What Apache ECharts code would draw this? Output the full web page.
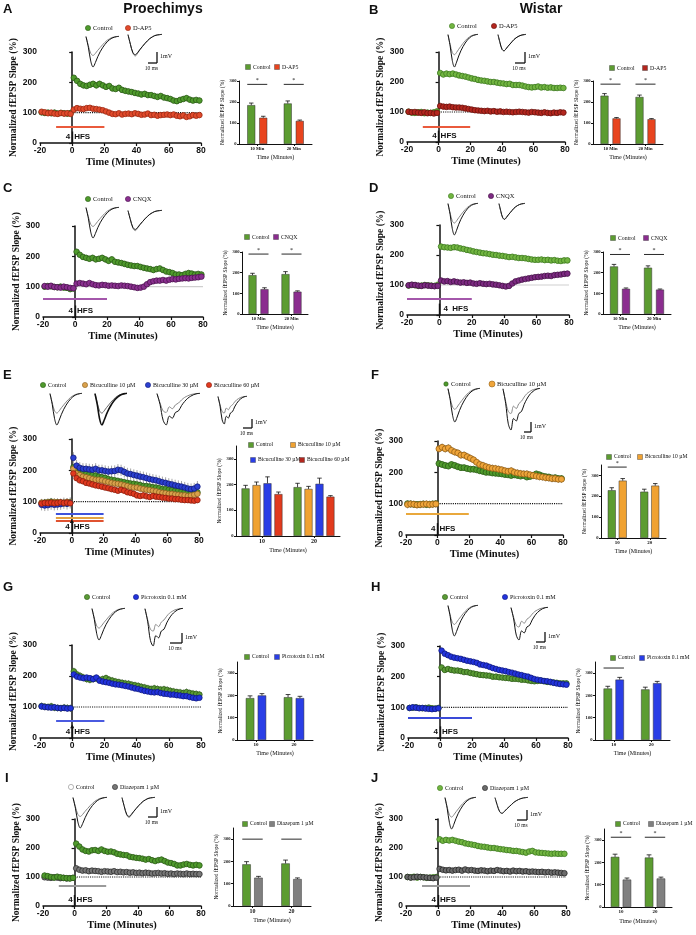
<!DOCTYPE html>
<html>
<head>
<meta charset="utf-8">
<script src="https://cdn.jsdelivr.net/npm/echarts@6/dist/echarts.min.js"></script>
<style>
  html, body { margin: 0; padding: 0; background: #fff; }
  #fig { width: 696px; height: 935px; }
</style>
</head>
<body>
<div id="fig"></div>
<script>
// ---- time axis of the field recordings (minutes) ----
let minutes = [-19, -17, -15, -13, -11, -9, -7, -5, -3, -1,
  1, 3, 5, 7, 9, 11, 13, 15, 17, 19, 21, 23, 25, 27, 29, 31, 33, 35, 37, 39,
  41, 43, 45, 47, 49, 51, 53, 55, 57, 59, 61, 63, 65, 67, 69, 71, 73, 75, 77, 79]

// A  Proechimys D-AP5
let aControl = [101, 99, 100, 98, 100, 97, 99, 98, 97, 99,
  215, 205, 195, 190, 188, 192, 195, 190, 195, 190, 185, 188, 180, 178, 182, 175, 172, 170, 168, 165,
  163, 160, 162, 158, 158, 155, 152, 155, 150, 148, 145, 140, 138, 142, 145, 148, 143, 140, 142, 140]
let aDAP5 = [103, 101, 98, 100, 97, 96, 99, 97, 98, 96,
  110, 115, 113, 112, 115, 116, 113, 112, 110, 108, 104, 100, 96, 95, 98, 94, 96, 97, 95, 98,
  96, 93, 94, 97, 92, 93, 90, 92, 93, 94, 92, 94, 90, 88, 91, 86, 88, 92, 90, 92]
// B  Wistar D-AP5
let bControl = [101, 98, 97, 99, 100, 96, 98, 97, 99, 102,
  230, 225, 228, 226, 228, 225, 222, 220, 218, 215, 212, 210, 207, 205, 204, 202, 200, 200, 198, 196,
  195, 193, 194, 190, 190, 190, 188, 185, 183, 182, 183, 185, 182, 183, 181, 182, 180, 180, 181, 180]
let bDAP5 = [101, 99, 100, 98, 97, 99, 96, 97, 95, 97,
  120, 118, 117, 118, 116, 115, 115, 114, 112, 110, 108, 106, 105, 104, 103, 104, 102, 103, 101, 102,
  100, 101, 100, 99, 100, 101, 100, 99, 98, 100, 99, 98, 97, 99, 97, 96, 98, 97, 99, 98]
// C  Proechimys CNQX
let cControl = [100, 102, 101, 99, 98, 100, 97, 96, 92, 94,
  215, 205, 198, 195, 192, 195, 190, 192, 195, 190, 185, 190, 182, 180, 178, 175, 172, 170, 168, 168,
  165, 162, 160, 158, 155, 158, 160, 155, 150, 148, 145, 140, 140, 138, 142, 145, 143, 140, 142, 140]
let cCNQX = [102, 100, 103, 99, 98, 97, 100, 98, 96, 95,
  110, 112, 110, 108, 112, 108, 105, 104, 106, 105, 103, 104, 103, 102, 104, 103, 102, 100, 98, 96,
  97, 100, 108, 115, 118, 120, 120, 122, 120, 123, 125, 124, 126, 127, 128, 127, 129, 130, 131, 133]
// D  Wistar CNQX
let dControl = [98, 100, 99, 97, 98, 100, 99, 98, 97, 101,
  228, 226, 225, 224, 226, 225, 222, 220, 217, 215, 212, 210, 208, 206, 205, 203, 201, 200, 198, 197,
  195, 193, 194, 192, 190, 190, 189, 187, 185, 184, 184, 185, 183, 184, 182, 183, 181, 180, 182, 182]
let dCNQX = [99, 101, 100, 98, 97, 99, 98, 97, 96, 97,
  115, 112, 113, 110, 112, 110, 108, 109, 107, 108, 105, 104, 106, 104, 103, 104, 102, 101, 99, 97,
  95, 97, 105, 112, 115, 118, 120, 122, 124, 126, 127, 128, 130, 131, 130, 133, 134, 135, 137, 138]
// E  Proechimys bicuculline
let eControl = [95, 97, 98, 100, 96, 98, 97, 95, 97, 98,
  210, 200, 195, 192, 188, 187, 185, 183, 180, 178, 176, 172, 170, 168, 166, 164, 162, 160, 158, 157,
  155, 153, 150, 150, 148, 146, 145, 143, 140, 140, 138, 137, 135, 135, 133, 132, 130, 130, 128, 130]
let eBic10 = [97, 96, 98, 97, 99, 98, 96, 97, 99, 98,
  205, 190, 185, 180, 178, 175, 172, 170, 170, 168, 165, 163, 160, 158, 157, 155, 152, 150, 147, 145,
  145, 142, 140, 138, 137, 135, 133, 130, 128, 127, 125, 125, 123, 122, 120, 120, 118, 120, 122, 125]
let eBic30 = [90, 88, 89, 92, 90, 91, 92, 95, 93, 96,
  240, 215, 208, 205, 205, 203, 202, 205, 200, 200, 198, 196, 197, 198, 202, 200, 195, 190, 188, 185,
  183, 180, 178, 175, 172, 170, 168, 165, 162, 160, 157, 155, 152, 150, 148, 145, 142, 140, 142, 148]
let eBic60 = [94, 96, 95, 97, 95, 96, 98, 96, 97, 95,
  190, 175, 168, 165, 160, 158, 155, 152, 150, 148, 145, 143, 140, 138, 135, 138, 135, 130, 128, 125,
  120, 118, 120, 117, 115, 118, 116, 115, 113, 112, 110, 110, 108, 108, 106, 105, 105, 104, 103, 105]
// F  Wistar bicuculline
let fControl = [100, 99, 98, 97, 98, 99, 97, 98, 99, 100,
  228, 225, 222, 220, 225, 222, 218, 215, 215, 212, 210, 210, 208, 205, 203, 200, 200, 198, 197, 196,
  195, 193, 192, 190, 192, 190, 188, 190, 185, 187, 190, 195, 192, 188, 186, 185, 182, 183, 180, 180]
let fBic10 = [97, 99, 98, 96, 97, 98, 99, 97, 98, 99,
  275, 280, 275, 278, 270, 265, 262, 255, 255, 250, 245, 240, 232, 225, 222, 218, 215, 213, 212, 210,
  208, 205, 203, 205, 200, 198, 196, 195, 195, 192, 190, 188, 186, 185, 183, 182, 180, 180, 178, 178]
// G  Proechimys picrotoxin
let gControl = [103, 101, 100, 102, 98, 97, 96, 98, 97, 96,
  215, 205, 200, 195, 190, 188, 190, 192, 188, 190, 193, 188, 185, 182, 180, 178, 176, 175, 172, 170,
  168, 165, 163, 160, 158, 160, 158, 156, 157, 155, 152, 150, 148, 147, 145, 148, 145, 143, 142, 140]
let gPicro = [102, 100, 99, 98, 99, 97, 96, 97, 95, 96,
  205, 198, 195, 193, 195, 193, 190, 195, 185, 182, 180, 178, 175, 173, 172, 170, 168, 166, 163, 160,
  158, 155, 152, 150, 148, 147, 148, 145, 143, 142, 140, 140, 138, 137, 135, 135, 132, 130, 128, 130]
// H  Wistar picrotoxin
let hControl = [98, 99, 100, 98, 97, 98, 99, 97, 96, 98,
  230, 222, 225, 222, 220, 220, 218, 215, 215, 212, 210, 208, 206, 205, 204, 203, 200, 200, 198, 197,
  196, 195, 193, 193, 192, 190, 190, 188, 186, 185, 186, 187, 185, 183, 182, 181, 180, 178, 178, 178]
let hPicro = [98, 100, 99, 97, 98, 96, 95, 94, 95, 97,
  285, 275, 270, 265, 262, 260, 258, 255, 252, 250, 248, 245, 240, 238, 236, 232, 228, 225, 222, 220,
  218, 215, 213, 210, 207, 205, 202, 200, 196, 192, 190, 188, 186, 185, 183, 180, 178, 176, 175, 174]
// I  Proechimys diazepam
let iControl = [105, 103, 100, 98, 101, 99, 97, 96, 95, 97,
  215, 205, 195, 190, 188, 192, 193, 190, 195, 190, 187, 188, 185, 180, 178, 176, 175, 170, 168, 166,
  165, 163, 160, 162, 158, 155, 158, 160, 155, 150, 148, 145, 140, 140, 143, 145, 142, 140, 142, 140]
let iDiaz = [99, 98, 97, 99, 98, 96, 97, 95, 96, 97,
  130, 125, 122, 123, 120, 122, 121, 120, 118, 120, 119, 118, 120, 117, 118, 116, 117, 115, 116, 114,
  115, 113, 115, 114, 112, 113, 114, 112, 113, 111, 112, 110, 112, 111, 110, 112, 110, 111, 110, 110]
// J  Wistar diazepam
let jControl = [100, 99, 101, 98, 100, 99, 97, 98, 99, 100,
  230, 225, 228, 226, 228, 225, 222, 220, 216, 214, 212, 210, 207, 205, 204, 202, 200, 200, 198, 196,
  195, 193, 192, 190, 190, 188, 186, 184, 188, 190, 185, 184, 183, 182, 181, 180, 181, 180, 180, 180]
let jDiaz = [100, 98, 99, 101, 100, 99, 98, 97, 96, 98,
  128, 125, 123, 124, 122, 124, 125, 122, 126, 123, 124, 122, 121, 123, 122, 120, 122, 121, 124, 122,
  120, 121, 119, 122, 120, 121, 119, 120, 118, 119, 118, 117, 118, 116, 117, 115, 116, 115, 114, 113]

// ---- bar summaries (10 and 20 min after HFS) ----
let catsMin = ['10 Min', '20 Min']
let catsNum = ['10', '20']
let aBarControl = [185, 193], aBarControlSem = [10, 12], aBarDAP5 = [125, 110], aBarDAP5Sem = [7, 4], aSig = [284, 284]
let bBarControl = [230, 224], bBarControlSem = [10, 9], bBarDAP5 = [122, 118], bBarDAP5Sem = [4, 3], bSig = [285, 285]
let cBarControl = [188, 193], cBarControlSem = [9, 12], cBarCNQX = [120, 108], cBarCNQXSem = [7, 4], cSig = [290, 290]
let dBarControl = [230, 224], dBarControlSem = [10, 9], dBarCNQX = [122, 118], dBarCNQXSem = [4, 3], dSig = [288, 288]
let eBarControl = [185, 190], eBarControlSem = [12, 15], eBarBic10 = [198, 183], eBarBic10Sem = [12, 10]
let eBarBic30 = [205, 203], eBarBic30Sem = [25, 22], eBarBic60 = [163, 153], eBarBic60Sem = [8, 4]
let fBarControl = [229, 222], fBarControlSem = [12, 12], fBarBic10 = [275, 251], fBarBic10Sem = [10, 10], fSig = [340, null]
let gBarControl = [188, 192], gBarControlSem = [10, 12], gBarPicro = [200, 188], gBarPicroSem = [8, 8]
let hBarControl = [231, 227], hBarControlSem = [10, 10], hBarPicro = [271, 255], hBarPicroSem = [10, 8], hSig = [323, null]
let iBarControl = [187, 191], iBarControlSem = [12, 15], iBarDiaz = [127, 121], iBarDiazSem = [6, 5], iSig = [300, 300]
let jBarControl = [225, 222], jBarControlSem = [12, 12], jBarDiaz = [123, 128], jBarDiazSem = [7, 6], jSig = [313, 313]

// ---- example fEPSP waveforms (normalised, arbitrary time) ----
let traceTime = [0, 1, 2, 3, 4, 5, 6, 7, 8, 9, 10, 11, 12, 13, 14]
let traceLTP = [0, -0.35, -0.8, -1.0, -0.85, -0.66, -0.5, -0.37, -0.26, -0.17, -0.1, -0.05, -0.02, 0, 0.01]
let traceBase = [0, -0.3, -0.55, -0.62, -0.55, -0.45, -0.36, -0.27, -0.19, -0.12, -0.07, -0.03, -0.01, 0, 0.01]
let traceBase2 = [0, -0.3, -0.58, -0.66, -0.57, -0.46, -0.36, -0.27, -0.19, -0.12, -0.07, -0.03, -0.01, 0, 0.01]
let traceSmall = [0, -0.25, -0.45, -0.5, -0.44, -0.36, -0.29, -0.22, -0.15, -0.1, -0.06, -0.03, -0.01, 0, 0.01]
let traceDis = [0, -0.35, -0.85, -1.0, -0.72, -0.78, -0.6, -0.55, -0.38, -0.25, -0.15, -0.08, -0.03, 0, 0.01]
let traceDisBase = [0, -0.3, -0.55, -0.6, -0.42, -0.48, -0.36, -0.3, -0.2, -0.12, -0.07, -0.03, -0.01, 0, 0.01]

let serif = '"Liberation Serif", "DejaVu Serif", serif'
let sans = '"Liberation Sans", Arial, sans-serif'
let ink = '#111'

let option = { animation: false, backgroundColor: '#fff', grid: [], xAxis: [], yAxis: [], series: [], graphic: [] }

function addGrid(box) {
  option.grid.push({ left: box[0], top: box[1], width: box[2], height: box[3], containLabel: false, outerBoundsMode: 'none' })
  return option.grid.length - 1
}
function txt(x, y, s, size, o) {
  o = o || {}
  option.graphic.push({
    type: 'text', silent: true, z: 50,
    style: {
      text: s, x: x, y: y, fill: o.color || ink, fontSize: size, fontFamily: o.family || serif,
      fontWeight: o.weight || 'normal', align: o.align || 'left', textAlign: o.align || 'left',
      verticalAlign: 'middle', textVerticalAlign: 'middle'
    }
  })
}
function seg(x1, y1, x2, y2, w) {
  option.graphic.push({ type: 'line', silent: true, z: 50, shape: { x1: x1, y1: y1, x2: x2, y2: y2 }, style: { stroke: ink, lineWidth: w || 1.2 } })
}
function dot(x, y, fill, stroke, r) {
  option.graphic.push({ type: 'circle', silent: true, z: 50, shape: { cx: x, cy: y, r: r || 2.6 }, style: { fill: fill, stroke: stroke || '#333', lineWidth: 0.6 } })
}
function sq(x, y, fill) {
  option.graphic.push({ type: 'rect', silent: true, z: 50, shape: { x: x - 2.5, y: y - 2.5, width: 5, height: 5 }, style: { fill: fill, stroke: '#333', lineWidth: 0.4 } })
}
function legend(y, items, size) {
  items.forEach(it => {
    if (it.square) sq(it.x, y, it.color)
    else dot(it.x, y, it.color, it.stroke, it.r)
    txt(it.x + 5, y, it.text, size || 6.5)
  })
}
function scaleBar(vx, y1, y2, hx) {
  seg(vx, y1, vx, y2, 1.3)
  seg(hx, y2, vx, y2, 1.3)
  txt(vx + 3, (y1 + y2) / 2 - 1, '1mV', 6)
  txt((hx + vx) / 2 - 1, y2 + 6, '10 ms', 5.5, { align: 'center' })
}
function traces(box, lines) {
  let g = addGrid(box)
  option.xAxis.push({ gridIndex: g, type: 'value', min: 0, max: 14, show: false })
  option.yAxis.push({ gridIndex: g, type: 'value', min: -1, max: 0.02, show: false })
  let xi = option.xAxis.length - 1, yi = option.yAxis.length - 1
  lines.forEach(l => {
    option.series.push({
      type: 'line', xAxisIndex: xi, yAxisIndex: yi, smooth: 0.35, showSymbol: false, silent: true,
      data: traceTime.map((t, i) => [t, l[0][i]]),
      lineStyle: { color: l[1], width: l[2] || 1 }
    })
  })
}
function errRender(sem) {
  return function (params, api) {
    let a = api.coord([api.value(0), api.value(1) + sem])
    let b = api.coord([api.value(0), api.value(1) - sem])
    return { type: 'line', shape: { x1: a[0], y1: a[1], x2: b[0], y2: b[1] }, style: { stroke: '#8f8f8f', lineWidth: 0.8 } }
  }
}
function timeCourse(p) {
  let g = addGrid(p.box)
  let axisFont = { fontSize: 8.5, fontWeight: 'bold', fontFamily: sans, color: ink, margin: 3 }
  option.xAxis.push({
    gridIndex: g, type: 'value', min: -20, max: 80, interval: 20,
    axisLine: { onZero: false, lineStyle: { color: ink, width: 1.5 } },
    axisTick: { length: 3, lineStyle: { color: ink, width: 1.2 } },
    axisLabel: axisFont, splitLine: { show: false },
    name: 'Time (Minutes)', nameLocation: 'middle', nameGap: 14,
    nameTextStyle: { fontFamily: serif, fontWeight: 'bold', fontSize: 10.5, color: ink }
  })
  option.yAxis.push({
    gridIndex: g, type: 'value', min: 0, max: 300, interval: 100,
    axisLine: { show: true, lineStyle: { color: ink, width: 1.5 } },
    axisTick: { show: true, length: 3, lineStyle: { color: ink, width: 1.2 } },
    axisLabel: axisFont, splitLine: { show: false },
    name: 'Normalized fEPSP Slope (%)', nameLocation: 'middle', nameRotate: 90, nameGap: 20,
    nameTextStyle: { fontFamily: serif, fontWeight: 'bold', fontSize: 9.5, color: ink }
  })
  let xi = option.xAxis.length - 1, yi = option.yAxis.length - 1
  // reference line at 100 %, treatment bars and HFS mark
  let marks = []
  p.treat.forEach(t => {
    marks.push([{ coord: [t[1], t[0]], lineStyle: { color: t[3], width: 1.8, type: 'solid' } }, { coord: [t[2], t[0]] }])
  })
  marks.push([
    { coord: [0, 0], symbol: 'none', lineStyle: { color: ink, width: 1.4, type: 'solid' } },
    { coord: [0, 38], symbol: p.arrow ? 'triangle' : 'none', symbolSize: [4, 4] }
  ])
  option.series.push({
    type: 'line', xAxisIndex: xi, yAxisIndex: yi, silent: true, showSymbol: false, z: 1,
    data: [[0, 100], [80, 100]],
    lineStyle: { color: p.refColor || ink, width: 1.1, type: p.refColor ? 'solid' : 'dotted' },
    markLine: { silent: true, symbol: 'none', label: { show: false }, data: marks }
  })
  p.series.forEach((s, k) => {
    let pts = minutes.map((m, i) => [m, s[0][i]])
    option.series.push({
      type: 'custom', xAxisIndex: xi, yAxisIndex: yi, silent: true, z: 2,
      encode: { x: 0, y: 1 }, data: pts, renderItem: errRender(s[3])
    })
    option.series.push({
      type: 'scatter', xAxisIndex: xi, yAxisIndex: yi, silent: true, z: 3 + k,
      data: pts, symbolSize: p.size || 5.6,
      itemStyle: { color: s[1], borderColor: s[2], borderWidth: 0.8, opacity: 1 }
    })
  })
  // HFS label
  let x0 = p.box[0] + p.box[2] * 0.2
  let yb = p.box[1] + p.box[3] - 6
  if (p.hfsRight) {
    txt(x0 + 4, yb, '4  HFS', 8, { family: sans, weight: 'bold' })
  } else {
    txt(x0 - 2, yb, '4', 8, { family: sans, weight: 'bold', align: 'right' })
    txt(x0 + 2, yb, 'HFS', 8, { family: sans, weight: 'bold' })
  }
}
function barErr(bw, gap) {
  return function (params, api) {
    let c = api.value(0), v = api.value(1), e = api.value(2), k = api.value(3), n = api.value(4)
    let dx = (k - (n - 1) / 2) * bw * (1 + gap)
    let top = api.coord([c, v + e]), base = api.coord([c, v])
    let x = top[0] + dx
    return {
      type: 'group', children: [
        { type: 'line', shape: { x1: x, y1: base[1], x2: x, y2: top[1] }, style: { stroke: ink, lineWidth: 0.8 } },
        { type: 'line', shape: { x1: x - bw * 0.28, y1: top[1], x2: x + bw * 0.28, y2: top[1] }, style: { stroke: ink, lineWidth: 0.8 } }
      ]
    }
  }
}
function sigRender(bw, gap, n, star) {
  return function (params, api) {
    let p = api.coord([api.value(0), api.value(1)])
    let half = ((n - 1) / 2) * bw * (1 + gap) + bw / 2
    let kids = [{ type: 'line', shape: { x1: p[0] - half, y1: p[1], x2: p[0] + half, y2: p[1] }, style: { stroke: ink, lineWidth: 0.9 } }]
    if (star) kids.push({ type: 'text', style: { text: '*', x: p[0], y: p[1] - 4, fill: ink, fontSize: 6, fontFamily: serif, align: 'center', textAlign: 'center', verticalAlign: 'middle', textVerticalAlign: 'middle' } })
    return { type: 'group', children: kids }
  }
}
function barChart(p) {
  let g = addGrid(p.box)
  let tiny = { fontSize: 4.6, fontFamily: serif, fontWeight: 'bold', color: ink, margin: 2.5 }
  option.xAxis.push({
    gridIndex: g, type: 'category', data: p.cats,
    axisLine: { lineStyle: { color: ink, width: 1 } },
    axisTick: { show: true, alignWithLabel: true, length: 2, lineStyle: { color: ink } },
    axisLabel: Object.assign({}, tiny, { fontSize: p.catFont || 4.6 }),
    name: 'Time (Minutes)', nameLocation: 'middle', nameGap: p.xGap || 10,
    nameTextStyle: { fontFamily: serif, fontSize: 6, color: ink }
  })
  option.yAxis.push({
    gridIndex: g, type: 'value', min: 0, max: p.max, interval: 100,
    axisLine: { show: true, lineStyle: { color: ink, width: 1 } },
    axisTick: { show: true, length: 2, lineStyle: { color: ink } },
    axisLabel: Object.assign({}, tiny, { showMaxLabel: p.max === 300 }), splitLine: { show: false },
    name: 'Normalized fEPSP Slope (%)', nameLocation: 'middle', nameRotate: 90, nameGap: 13,
    nameTextStyle: { fontFamily: serif, fontSize: 5.5, color: ink }
  })
  let xi = option.xAxis.length - 1, yi = option.yAxis.length - 1
  let n = p.series.length
  let errs = []
  p.series.forEach((s, k) => {
    option.series.push({
      type: 'bar', xAxisIndex: xi, yAxisIndex: yi, silent: true, data: s[0],
      barWidth: p.bw, barGap: (p.gap * 100) + '%',
      itemStyle: { color: s[2], borderColor: '#333', borderWidth: 0.5 }
    })
    s[0].forEach((v, c) => errs.push([c, v, s[1][c], k, n]))
  })
  option.series.push({
    type: 'custom', xAxisIndex: xi, yAxisIndex: yi, silent: true, z: 4,
    dimensions: ['c', 'v', 'e', 'k', 'n'], encode: { x: 0, y: 1 },
    data: errs, renderItem: barErr(p.bw, p.gap)
  })
  if (p.sig) {
    let sd = []
    p.sig.forEach((v, c) => { if (v !== null) sd.push([c, v]) })
    option.series.push({
      type: 'custom', xAxisIndex: xi, yAxisIndex: yi, silent: true, z: 4,
      encode: { x: 0, y: 1 }, data: sd, renderItem: sigRender(p.bw, p.gap, n, p.star)
    })
  }
}

// ---- colours ----
let G1 = '#4f9a2c', G1b = '#2b5c17', G2 = '#72b541', G2b = '#3c7a1f'
let barGreen = '#5c9c31', barRed = '#e8441e', barPurple = '#8b2d8f', barOrange = '#f0a232', barBlue = '#2a3ee6', barGrey = '#808080'

// ---- headings ----
txt(3, 9, 'A', 13, { family: sans, weight: 'bold' })
txt(369, 10, 'B', 13, { family: sans, weight: 'bold' })
txt(3, 188, 'C', 13, { family: sans, weight: 'bold' })
txt(369, 188, 'D', 13, { family: sans, weight: 'bold' })
txt(3, 375, 'E', 13, { family: sans, weight: 'bold' })
txt(371, 375, 'F', 13, { family: sans, weight: 'bold' })
txt(3, 587, 'G', 13, { family: sans, weight: 'bold' })
txt(371, 587, 'H', 13, { family: sans, weight: 'bold' })
txt(5, 778, 'I', 13, { family: sans, weight: 'bold' })
txt(371, 778, 'J', 13, { family: sans, weight: 'bold' })
txt(163, 9, 'Proechimys', 14, { family: sans, weight: 'bold', align: 'center' })
txt(541, 9, 'Wistar', 14, { family: sans, weight: 'bold', align: 'center' })

// ---- A ----
timeCourse({ box: [40, 52, 161, 91], series: [[aControl, G1, G1b, 10], [aDAP5, '#e14a2b', '#9a2a14', 6]], treat: [[53, -10, 20, '#ea5a3c']] })
legend(28, [{ x: 88, text: 'Control', color: G1, stroke: G1b }, { x: 128, text: 'D-AP5', color: '#e14a2b', stroke: '#9a2a14' }])
traces([86, 36, 33, 31], [[traceBase, '#888'], [traceLTP, ink]])
traces([128, 34, 34, 33], [[traceBase2, '#888'], [traceBase, ink]])
scaleBar(157, 52, 63, 148)
barChart({ box: [239, 81, 73, 63], max: 300, cats: catsMin, bw: 8, gap: 0.5, series: [[aBarControl, aBarControlSem, barGreen], [aBarDAP5, aBarDAP5Sem, barRed]], sig: aSig, star: true })
legend(67, [{ x: 248, text: 'Control', color: barGreen, square: true }, { x: 277, text: 'D-AP5', color: barRed, square: true }], 5.8)

// ---- B ----
timeCourse({ box: [407, 52, 158, 90], series: [[bControl, G2, G2b, 9], [bDAP5, '#b3261e', '#6a130e', 5]], treat: [[51, -10, 20, '#ea5a3c']] })
legend(26, [{ x: 452, text: 'Control', color: G2, stroke: G2b }, { x: 494, text: 'D-AP5', color: '#b3261e', stroke: '#6a130e' }])
traces([448, 34, 30, 33], [[traceBase, '#888'], [traceLTP, ink]])
traces([498, 34, 28, 33], [[traceSmall, '#888'], [traceSmall, ink]])
scaleBar(525, 52, 63, 515)
barChart({ box: [593, 81, 70, 63], max: 300, cats: catsMin, bw: 8, gap: 0.5, series: [[bBarControl, bBarControlSem, barGreen], [bBarDAP5, bBarDAP5Sem, barRed]], sig: bSig, star: true })
legend(68, [{ x: 612, text: 'Control', color: barGreen, square: true }, { x: 645, text: 'D-AP5', color: '#b3261e', square: true }], 5.8)

// ---- C ----
timeCourse({ box: [43, 226, 160, 91], series: [[cControl, G1, G1b, 10], [cCNQX, '#8a2f8f', '#4c1450', 5]], treat: [[59, -20, 20, '#a457ab']], refColor: '#cfcfcf' })
legend(199, [{ x: 88, text: 'Control', color: G1, stroke: G1b }, { x: 128, text: 'CNQX', color: '#8a2f8f', stroke: '#4c1450' }])
traces([86, 207, 33, 31], [[traceBase, '#888'], [traceLTP, ink]])
traces([128, 210, 34, 31], [[traceBase2, '#888'], [traceBase, ink]])
barChart({ box: [242, 252, 66, 62], max: 300, cats: catsMin, bw: 8, gap: 0.5, series: [[cBarControl, cBarControlSem, barGreen], [cBarCNQX, cBarCNQXSem, barPurple]], sig: cSig, star: true })
legend(237, [{ x: 247, text: 'Control', color: barGreen, square: true }, { x: 276, text: 'CNQX', color: barPurple, square: true }], 5.8)

// ---- D ----
timeCourse({ box: [407, 225, 162, 90], series: [[dControl, G2, G2b, 9], [dCNQX, '#7d2a82', '#441346', 5]], treat: [[53, -20, 20, '#a457ab']], refColor: '#cfcfcf', hfsRight: true })
legend(196, [{ x: 451, text: 'Control', color: G2, stroke: G2b }, { x: 491, text: 'CNQX', color: '#7d2a82', stroke: '#441346' }])
traces([448, 203, 30, 32], [[traceBase, '#888'], [traceLTP, ink]])
traces([499, 203, 26, 32], [[traceSmall, '#888'], [traceSmall, ink]])
barChart({ box: [603, 252, 68, 62], max: 300, cats: catsMin, bw: 8, gap: 0.5, series: [[dBarControl, dBarControlSem, barGreen], [dBarCNQX, dBarCNQXSem, barPurple]], sig: dSig, star: true })
legend(238, [{ x: 613, text: 'Control', color: barGreen, square: true }, { x: 646, text: 'CNQX', color: barPurple, square: true }], 5.8)

// ---- E ----
timeCourse({ box: [40, 439, 159, 94], arrow: true, series: [[eControl, G1, G1b, 12], [eBic10, '#d9a14c', '#8a5f1e', 12], [eBic30, '#2b3fd0', '#131d7c', 18], [eBic60, '#e0391f', '#8a1d0c', 8]], treat: [[60, -10, 20, '#3f52dc'], [49, -10, 20, '#e3a242'], [38, -10, 20, '#e05230']] })
legend(385, [{ x: 43, text: 'Control', color: G1, stroke: G1b }, { x: 85, text: 'Bicuculline 10 µM', color: '#d9a14c', stroke: '#8a5f1e' },
  { x: 148, text: 'Bicuculline 30 µM', color: '#2b3fd0', stroke: '#131d7c' }, { x: 209, text: 'Bicuculline 60 µM', color: '#e0391f', stroke: '#8a1d0c' }], 6)
traces([50, 393, 32, 32], [[traceBase, '#888'], [traceLTP, ink]])
traces([95, 393, 32, 32], [[traceBase, '#666'], [traceLTP, ink, 1.6]])
traces([157, 393, 43, 32], [[traceDisBase, '#888'], [traceDis, ink]])
traces([218, 396, 29, 28], [[traceDisBase, '#888'], [traceDis, ink]])
scaleBar(252, 419, 428, 243)
barChart({ box: [236, 446, 104, 90], max: 350, cats: catsNum, bw: 8, gap: 0.37, catFont: 6, xGap: 11, series: [[eBarControl, eBarControlSem, barGreen], [eBarBic10, eBarBic10Sem, barOrange], [eBarBic30, eBarBic30Sem, barBlue], [eBarBic60, eBarBic60Sem, '#e23a1d']] })
legend(445, [{ x: 251, text: 'Control', color: barGreen, square: true }, { x: 293, text: 'Bicuculline 10 µM', color: barOrange, square: true }], 5.6)
legend(460, [{ x: 253, text: 'Bicuculline 30 µM', color: barBlue, square: true }, { x: 302, text: 'Bicuculline 60 µM', color: '#b3261e', square: true }], 5.6)

// ---- F ----
timeCourse({ box: [406, 441, 157, 94], size: 6, series: [[fControl, G1, G1b, 10], [fBic10, '#f0a53a', '#946014', 12]], treat: [[67, -20, 20, '#e9a83c']] })
legend(384, [{ x: 446, text: 'Control', color: G1, stroke: G1b, r: 2.2 }, { x: 492, text: 'Bicuculline 10 µM', color: '#f0a53a', stroke: '#946014', r: 3 }])
traces([448, 388, 32, 34], [[traceBase, '#888'], [traceLTP, ink]])
traces([503, 388, 37, 42], [[traceDisBase, '#888'], [traceDis, ink]])
scaleBar(531, 422, 432, 524)
barChart({ box: [601, 465, 65, 73], max: 350, cats: catsNum, bw: 8, gap: 0.37, catFont: 5, series: [[fBarControl, fBarControlSem, barGreen], [fBarBic10, fBarBic10Sem, barOrange]], sig: fSig, star: true })
legend(457, [{ x: 609, text: 'Control', color: barGreen, square: true }, { x: 640, text: 'Bicuculline 10 µM', color: barOrange, square: true }], 5.6)

// ---- G ----
timeCourse({ box: [40, 645, 161, 93], arrow: true, series: [[gControl, '#5a9a35', '#2f5d18', 12], [gPicro, '#2233dd', '#101a80', 7]], treat: [[55, -10, 20, '#4a5ae0']] })
legend(597, [{ x: 87, text: 'Control', color: '#5a9a35', stroke: '#2f5d18' }, { x: 136, text: 'Picrotoxin 0.1 mM', color: '#2233dd', stroke: '#101a80' }], 6)
traces([92, 608, 33, 32], [[traceBase, '#888'], [traceLTP, ink]])
traces([145, 608, 38, 38], [[traceDisBase, '#888'], [traceDis, ink]])
scaleBar(182, 633, 643, 170)
barChart({ box: [237, 662, 76, 78], max: 350, cats: catsNum, bw: 8.5, gap: 0.4, catFont: 5, series: [[gBarControl, gBarControlSem, barGreen], [gBarPicro, gBarPicroSem, barBlue]] })
legend(657, [{ x: 247, text: 'Control', color: barGreen, square: true }, { x: 277, text: 'Picrotoxin 0.1 mM', color: barBlue, square: true }], 5.6)

// ---- H ----
timeCourse({ box: [408, 646, 160, 92], series: [[hControl, '#5a9a35', '#2f5d18', 9], [hPicro, '#2233dd', '#101a80', 7]], treat: [[66, -20, 20, '#3a4ad8']] })
legend(597, [{ x: 445, text: 'Control', color: '#5a9a35', stroke: '#2f5d18' }, { x: 505, text: 'Picrotoxin 0.1 mM', color: '#2233dd', stroke: '#101a80' }], 6)
traces([448, 605, 30, 31], [[traceBase, '#888'], [traceLTP, ink]])
traces([511, 607, 37, 33], [[traceDisBase, '#888'], [traceDis, ink]])
scaleBar(545, 632, 642, 536)
barChart({ box: [595, 662, 75, 78], max: 350, cats: catsNum, bw: 8.5, gap: 0.4, catFont: 5, series: [[hBarControl, hBarControlSem, barGreen], [hBarPicro, hBarPicroSem, barBlue]], sig: hSig, star: false })
legend(658, [{ x: 613, text: 'Control', color: barGreen, square: true }, { x: 642, text: 'Picrotoxin 0.1 mM', color: barBlue, square: true }], 5.6)

// ---- I ----
timeCourse({ box: [43, 819, 158, 87], series: [[iDiaz, '#777', '#2e2e2e', 5], [iControl, G1, G1b, 10]], treat: [[70, -10, 20, '#9a9a9a']] })
legend(787, [{ x: 71, text: 'Control', color: '#fff', stroke: '#888' }, { x: 115, text: 'Diazepam 1 µM', color: '#777', stroke: '#2e2e2e' }], 6)
traces([73, 797, 34, 31], [[traceBase, '#888'], [traceLTP, ink]])
traces([122, 797, 33, 31], [[traceBase2, '#999'], [traceBase, ink]])
scaleBar(157, 807, 817, 148)
barChart({ box: [233, 828, 78, 78], max: 350, cats: catsNum, bw: 8.5, gap: 0.4, catFont: 6, xGap: 11, series: [[iBarControl, iBarControlSem, barGreen], [iBarDiaz, iBarDiazSem, barGrey]], sig: iSig, star: false })
legend(824, [{ x: 245, text: 'Control', color: barGreen, square: true }, { x: 272, text: 'Diazepam 1 µM', color: barGrey, square: true }], 5.6)

// ---- J ----
timeCourse({ box: [406, 819, 160, 87], series: [[jControl, G2, G2b, 9], [jDiaz, '#6b6b6b', '#262626', 6]], treat: [[69, -10, 20, '#9a9a9a']] })
legend(788, [{ x: 440, text: 'Control', color: G2, stroke: G2b }, { x: 485, text: 'Diazepam 1 µM', color: '#6b6b6b', stroke: '#262626' }], 6)
traces([445, 797, 31, 32], [[traceBase, '#888'], [traceLTP, ink]])
traces([495, 797, 33, 32], [[traceSmall, '#aaa'], [traceSmall, ink]])
scaleBar(527, 810, 820, 517)
barChart({ box: [604, 829, 68, 78], max: 350, cats: catsNum, bw: 8.5, gap: 0.4, catFont: 5, xGap: 11, series: [[jBarControl, jBarControlSem, barGreen], [jBarDiaz, jBarDiazSem, barGrey]], sig: jSig, star: true })
legend(824, [{ x: 618, text: 'Control', color: barGreen, square: true }, { x: 651, text: 'Diazepam 1 µM', color: barGrey, square: true }], 5.6)

let myChart = echarts.init(document.getElementById('fig'), null, { renderer: 'canvas' })
myChart.setOption(option)
</script>
</body>
</html>
